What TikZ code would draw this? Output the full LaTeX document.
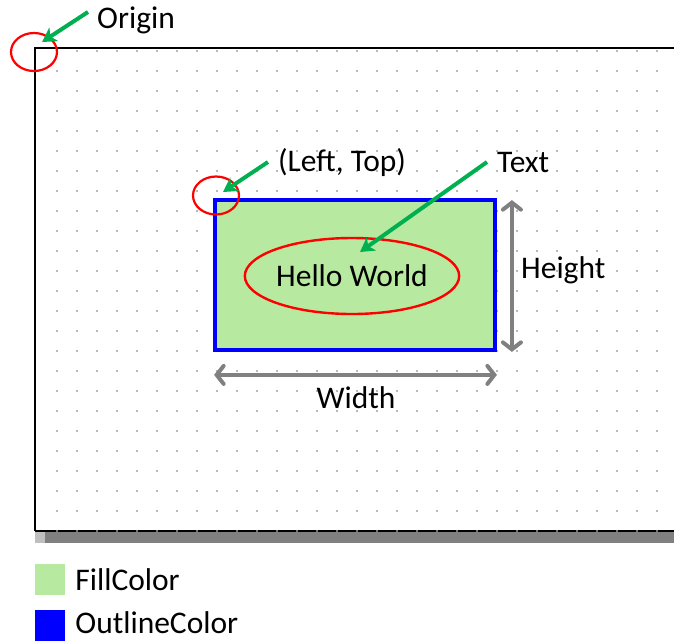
\documentclass[tikz,border=0pt]{standalone}
\usepackage{fontspec}
\setmainfont{Carlito}
\usetikzlibrary{positioning,shapes.geometric,arrows.meta,calc}
\definecolor{fillgreen}{RGB}{183,234,160}
\definecolor{pointgreen}{RGB}{0,176,80}
\definecolor{dotgray}{RGB}{160,160,160}
\definecolor{bargray}{RGB}{128,128,128}
\tikzset{
  mark ring/.style={ellipse, draw=red, line width=2.2pt, minimum width=46pt, minimum height=38pt, inner sep=0pt},
  pointer/.style={pointgreen, line width=4pt, -{Stealth[length=14pt,width=16pt,inset=4pt]}},
  measure/.style={bargray, line width=4pt, line cap=round, {Straight Barb[length=7pt,width=18pt,line cap=round]}-{Straight Barb[length=7pt,width=18pt,line cap=round]}},
  caption/.style={inner sep=0pt, font=\fontsize{31.5}{36}\selectfont},
  swatch/.style={minimum width=30pt, minimum height=31pt, inner sep=0pt}
}
\begin{document}
\begin{tikzpicture}[x=1pt, y=-1pt]
\useasboundingbox (0,0) rectangle (674,641);

% Canvas frame
\fill[bargray] (35,532) rectangle (674,543);
\fill[black!25] (35,532) rectangle (45,543);
\draw[line width=2.2pt] (674,48) -- (35,48) -- (35,531);
\draw[line width=2.5pt] (35,531) -- (674,531);

% Dot grid
\foreach \i in {0,...,31}
  \foreach \j in {0,...,24}
    \fill[dotgray] (57+20*\i, 51+20*\j) circle (1.2pt);

% Shape
\node[draw=blue, line width=3.8pt, fill=fillgreen, minimum width=280pt, minimum height=150pt, inner sep=0pt] (box) at (355,275) {};
\node[ellipse, draw=red, line width=2.4pt, minimum width=198pt, minimum height=76pt, inner sep=0pt, caption] (hello) at (352,276) {Hello World};

% Marked corners
\node[mark ring] (orig) at (34,52) {};
\node[mark ring] (lt) at (216,195.5) {};

% Captions
\node[caption, anchor=west] (origin) at (97,20) {Origin};
\node[caption, anchor=west] (lefttop) at (278,163) {(Left, Top)};
\node[caption, anchor=west] (txt) at (497,163) {Text};
\node[caption, anchor=west] (height) at (521,270) {Height};
\node[caption] (width) at (356,398) {Width};

% Pointers
\coordinate (o1) at (88,12);
\coordinate (o2) at (42,42);
\coordinate (l1) at (268,162);
\coordinate (l2) at (223,192);
\coordinate (t1) at (487,162);
\coordinate (t2) at (360,252);
\draw[pointer] (o1) -- (o2);
\draw[pointer] (l1) -- (l2);
\draw[pointer] (t1) -- (t2);

% Measures
\draw[measure] ($(box.north east)+(15,2)$) -- ($(box.south east)+(15,0)$);
\draw[measure] ($(box.south west)+(1,23)$) -- ($(box.south east)+(0,23)$);

% Legend
\node[swatch, fill=fillgreen] (fillkey) at (50,579.5) {};
\node[swatch, fill=blue] (linekey) at (50,625.5) {};
\node[caption, right=10pt of fillkey] (filltext) {FillColor};
\node[caption, right=10pt of linekey, yshift=3pt] (linetext) {OutlineColor};

\end{tikzpicture}
\end{document}
